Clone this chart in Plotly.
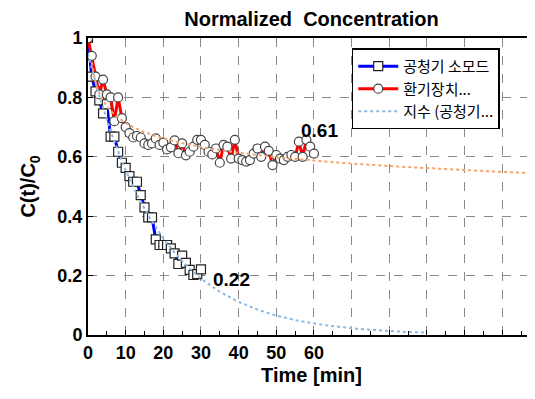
import numpy as np
import plotly.graph_objects as go

# ---- data ----
blue_name = "공청기 소모드"
red_name = "환기장치..."
fit_blue_name = "지수 (공청기..."

blue_t = list(range(0, 31))
blue_v = [1.0, 0.87, 0.82, 0.79, 0.746, 0.777, 0.668, 0.668, 0.617, 0.58,
          0.563, 0.535, 0.516, 0.516, 0.471, 0.43, 0.396, 0.396, 0.322, 0.303,
          0.303, 0.303, 0.292, 0.275, 0.239, 0.267, 0.243, 0.219, 0.202, 0.205,
          0.221]

red_t = list(range(0, 61))
red_v = [1.0, 0.94, 0.87, 0.81, 0.86, 0.81, 0.80, 0.72, 0.80, 0.73,
         0.70, 0.68, 0.665, 0.67, 0.665, 0.645, 0.64, 0.645, 0.662, 0.64,
         0.648, 0.625, 0.632, 0.655, 0.612, 0.645, 0.605, 0.617, 0.634, 0.657,
         0.657, 0.64, 0.617, 0.608, 0.628, 0.58, 0.64, 0.634, 0.594, 0.657,
         0.594, 0.589, 0.584, 0.589, 0.611, 0.628, 0.60, 0.634, 0.62, 0.572,
         0.606, 0.594, 0.589, 0.60, 0.606, 0.60, 0.651, 0.60, 0.657, 0.634,
         0.611]

x_tick_vals = [0, 10, 20, 30, 40, 50, 60, 70, 80, 90, 100, 110]
x_tick_text = ["0", "10", "20", "30", "40", "50", "60", "", "", "", "", ""]
y_tick_vals = [0, 0.2, 0.4, 0.6, 0.8, 1.0]
y_tick_text = ["0", "0.2", "0.4", "0.6", "0.8", "1"]

blue_label = "0.22"
red_label = "0.61"

# ---- trendlines fitted to the data (Excel-style) ----
bt = np.array(blue_t, dtype=float)
bv = np.array(blue_v, dtype=float)
b_slope, b_int = np.polyfit(bt, np.log(bv), 1)
fit_b_t = np.linspace(0, 90, 200)
fit_b_v = np.exp(b_int) * np.exp(b_slope * fit_b_t)

rt = np.array(red_t[1:], dtype=float)
rv = np.array(red_v[1:], dtype=float)
r_slope, r_int = np.polyfit(np.log(rt), np.log(rv), 1)
fit_r_t = np.linspace(1, 120, 300)
fit_r_v = np.exp(r_int) * fit_r_t ** r_slope

FONT = "Liberation Sans, Arial, sans-serif"
KFONT = "Noto Sans CJK KR, Liberation Sans, sans-serif"

W, H = 527, 391   # page body has an 8px margin

fig = go.Figure()
fig.add_trace(go.Scatter(
    x=blue_t, y=blue_v, name=blue_name, mode="lines+markers",
    line=dict(color="#0000FF", width=3),
    marker=dict(symbol="square", size=9, color="white",
                line=dict(color="#222222", width=1.2))))
fig.add_trace(go.Scatter(
    x=red_t, y=red_v, name=red_name, mode="lines+markers",
    line=dict(color="#FF0000", width=3),
    marker=dict(symbol="circle", size=9, color="white",
                line=dict(color="#444444", width=1.2))))
fig.add_trace(go.Scatter(
    x=fit_b_t, y=fit_b_v, name=fit_blue_name, mode="lines",
    line=dict(color="#8DB8E2", width=2, dash="dot")))
fig.add_trace(go.Scatter(
    x=fit_r_t, y=fit_r_v, name="지수 (환기장치...)", mode="lines",
    showlegend=False,
    line=dict(color="#F4A46A", width=2, dash="dot")))

fig.add_annotation(x=blue_t[-1], y=blue_v[-1], text=blue_label, showarrow=False,
                   xshift=31, yshift=-10,
                   font=dict(family=FONT, size=19, color="black", weight="bold"))
fig.add_annotation(x=red_t[-1], y=red_v[-1], text=red_label, showarrow=False,
                   xshift=6, yshift=23,
                   font=dict(family=FONT, size=19, color="black", weight="bold"))

fig.update_layout(
    width=W, height=H,
    margin=dict(l=80, r=0, t=30, b=64, autoexpand=False),
    paper_bgcolor="white", plot_bgcolor="white",
    title=dict(text="Normalized  Concentration", x=0.5, xref="paper",
               y=1 - 4 / H, yref="container", yanchor="top",
               font=dict(family=FONT, size=20, color="black", weight="bold")),
    legend=dict(x=0.59, y=0.965, xanchor="left", yanchor="top",
                bgcolor="white", bordercolor="black", borderwidth=1.5,
                font=dict(family=KFONT, size=15, color="black"),
                tracegroupgap=0, itemwidth=40),
    showlegend=True,
)
fig.update_xaxes(
    range=[0, 118.7], tickvals=x_tick_vals, ticktext=x_tick_text,
    automargin=False,
    showline=True, linecolor="black", linewidth=2, mirror=True,
    showgrid=True, gridcolor="#888888", griddash="dash", gridwidth=1,
    zeroline=False, ticks="inside", ticklen=5, tickcolor="black",
    minor=dict(dtick=5, ticks="inside", ticklen=4, tickcolor="black", showgrid=False),
    tickfont=dict(family=FONT, size=18, color="black", weight="bold"),
    title=dict(text="Time [min]", standoff=6,
               font=dict(family=FONT, size=20, color="black", weight="bold")),
)
fig.update_yaxes(
    range=[0, 1], tickvals=y_tick_vals, ticktext=y_tick_text,
    automargin=False,
    showline=True, linecolor="black", linewidth=2, mirror=False,
    showgrid=True, gridcolor="#888888", griddash="dash", gridwidth=1,
    zeroline=False, ticks="inside", ticklen=5, tickcolor="black",
    tickfont=dict(family=FONT, size=18, color="black", weight="bold"),
    title=dict(text="C(t)/C<sub>0</sub>", standoff=16,
               font=dict(family=FONT, size=20, color="black", weight="bold")),
)

fig.write_html("out.html")
